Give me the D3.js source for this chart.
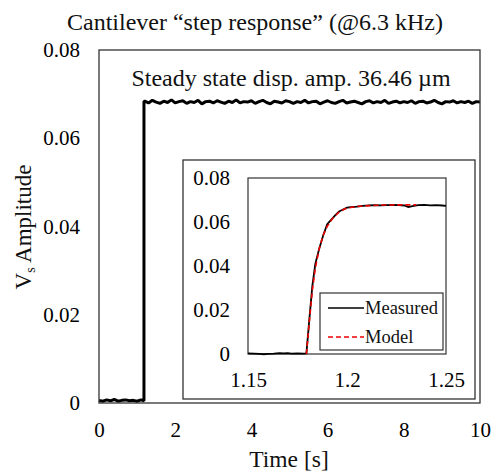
<!DOCTYPE html>
<html>
<head>
<meta charset="utf-8">
<script src="https://cdn.jsdelivr.net/npm/d3@7"></script>
<style>
body { margin: 0; background: #fff; }
.axis path { display: none; }
.axis line { display: none; }
</style>
</head>
<body>
<script>
// main trace: before the step, sampled every 0.1 s from 0
var preValues = [0.0006, 0.0004, 0.0007, 0.0005, 0.0008, 0.0004, 0.0006, 0.0007, 0.0005, 0.0006, 0.0004, 0.0007]
var stepTime = 1.18
// main trace: after the step, sampled every 0.1 s from 1.2 to 10
var postValues = [
    0.0684, 0.0680, 0.0686, 0.0682, 0.0679, 0.0684, 0.0681, 0.0687, 0.0680, 0.0683,
    0.0685, 0.0679, 0.0683, 0.0681, 0.0686, 0.0678, 0.0683, 0.0684, 0.0680, 0.0685,
    0.0682, 0.0679, 0.0684, 0.0681, 0.0687, 0.0680, 0.0683, 0.0682, 0.0685, 0.0679,
    0.0683, 0.0686, 0.0681, 0.0678, 0.0684, 0.0682, 0.0680, 0.0685, 0.0683, 0.0679,
    0.0683, 0.0681, 0.0686, 0.0680, 0.0683, 0.0684, 0.0678, 0.0682, 0.0685, 0.0681,
    0.0679, 0.0683, 0.0686, 0.0680, 0.0682, 0.0684, 0.0681, 0.0678, 0.0683, 0.0685,
    0.0680, 0.0683, 0.0681, 0.0686, 0.0679, 0.0682, 0.0684, 0.0680, 0.0683, 0.0681,
    0.0685, 0.0679, 0.0683, 0.0684, 0.0680, 0.0682, 0.0686, 0.0681, 0.0678, 0.0683,
    0.0682, 0.0685, 0.0680, 0.0683, 0.0681, 0.0684, 0.0679, 0.0683, 0.0682
]

// inset (zoom on the step)
var insetTime = [1.150, 1.153, 1.156, 1.158, 1.160, 1.163, 1.166, 1.168, 1.170, 1.172, 1.175, 1.178,
    1.1795, 1.181, 1.1825, 1.184, 1.186, 1.188, 1.190, 1.192, 1.194, 1.196, 1.198, 1.200,
    1.202, 1.205, 1.208, 1.211, 1.214, 1.217, 1.220, 1.223, 1.226, 1.229, 1.231, 1.233,
    1.236, 1.239, 1.242, 1.245, 1.248, 1.250]
var insetMeasured = [0.0003, 0.0002, 0.0001, -0.0001, 0.0001, 0.0002, 0.0004, 0.0003, 0.0004, 0.0002, 0.0003, 0.0002,
    0.0003, 0.0160, 0.0310, 0.0410, 0.0480, 0.0540, 0.0590, 0.0610, 0.0630, 0.0648, 0.0657, 0.0665,
    0.0668, 0.0670, 0.0673, 0.0676, 0.0677, 0.0676, 0.0677, 0.0678, 0.0677, 0.0675, 0.0668, 0.0672,
    0.0677, 0.0678, 0.0676, 0.0677, 0.0675, 0.0673]
var modelTime = [1.1795, 1.181, 1.1825, 1.184, 1.186, 1.188, 1.190, 1.193, 1.196, 1.199, 1.203, 1.208, 1.213, 1.218, 1.224, 1.230, 1.235]
var modelValues = [0, 0.015, 0.029, 0.039, 0.048, 0.054, 0.058, 0.062, 0.0645, 0.066, 0.0668, 0.0673, 0.0675, 0.0677, 0.0678, 0.0678, 0.0678]

var mainXTicks = [0, 2, 4, 6, 8, 10]
var mainYTicks = [0, 0.02, 0.04, 0.06, 0.08]
var insetXTicks = [1.15, 1.2, 1.25]
var insetYTicks = [0, 0.02, 0.04, 0.06, 0.08]
var legendLabels = ['Measured', 'Model']

var width = 491
var height = 474
var serif = 'Liberation Serif'

var svg = d3.select('body').append('svg')
    .attr('width', width)
    .attr('height', height)
    .attr('font-family', serif)

var yFormat = function (d) { return d === 0 ? '0' : d3.format('.2f')(d) }

// main series as one point list
var mainData = preValues.map(function (v, i) { return [i * 0.1, v] })
mainData.push([stepTime, 0.0005])
mainData.push([stepTime, postValues[0]])
postValues.forEach(function (v, i) { mainData.push([1.2 + i * 0.1, v]) })

var x = d3.scaleLinear().domain([0, 10]).range([99, 480])
var y = d3.scaleLinear().domain([0, 0.08]).range([403, 50])

function label(sel, size) {
    return sel.attr('font-family', serif).attr('font-size', size).attr('fill', '#111')
}

label(svg.append('text'), 24)
    .attr('x', 255).attr('y', 30)
    .attr('text-anchor', 'middle')
    .text('Cantilever \u201cstep response\u201d (@6.3 kHz)')

svg.append('g')
    .attr('class', 'axis')
    .attr('transform', 'translate(0,' + y(0) + ')')
    .call(d3.axisBottom(x).tickValues(mainXTicks).tickSize(0).tickPadding(19).tickFormat(d3.format('d')))
    .call(label, 21)

svg.append('g')
    .attr('class', 'axis')
    .attr('transform', 'translate(' + x(0) + ',0)')
    .call(d3.axisLeft(y).tickValues(mainYTicks).tickSize(0).tickPadding(19).tickFormat(yFormat))
    .call(label, 21)

label(svg.append('text'), 23.5)
    .attr('x', 289).attr('y', 467)
    .attr('text-anchor', 'middle')
    .text('Time [s]')

var ylab = label(svg.append('text'), 23)
    .attr('transform', 'translate(31,227) rotate(-90)')
    .attr('text-anchor', 'middle')
ylab.append('tspan').text('V')
ylab.append('tspan').attr('dy', 4).attr('font-size', 14).text('s')
ylab.append('tspan').attr('dy', -4).text(' Amplitude')

svg.append('path')
    .datum(mainData)
    .attr('fill', 'none')
    .attr('stroke', '#000')
    .attr('stroke-width', 3)
    .attr('stroke-linejoin', 'bevel')
    .attr('d', d3.line().x(function (d) { return x(d[0]) }).y(function (d) { return y(d[1]) }))

svg.append('rect')
    .attr('x', x(0)).attr('y', y(0.08))
    .attr('width', x(10) - x(0)).attr('height', y(0) - y(0.08))
    .attr('fill', 'none').attr('stroke', '#333').attr('stroke-width', 1.3)

label(svg.append('text'), 24)
    .attr('x', 291).attr('y', 86)
    .attr('text-anchor', 'middle')
    .text('Steady state disp. amp. 36.46 \u00b5m')

// inset
svg.append('rect')
    .attr('x', 183).attr('y', 160)
    .attr('width', 292).attr('height', 239)
    .attr('fill', '#fff').attr('stroke', '#333').attr('stroke-width', 1.3)

var ix = d3.scaleLinear().domain([1.15, 1.25]).range([248, 446])
var iy = d3.scaleLinear().domain([0, 0.08]).range([354, 178])

svg.append('rect')
    .attr('x', ix(1.15)).attr('y', iy(0.08))
    .attr('width', ix(1.25) - ix(1.15)).attr('height', iy(0) - iy(0.08))
    .attr('fill', 'none').attr('stroke', '#333').attr('stroke-width', 1.2)

svg.append('g')
    .attr('class', 'axis')
    .attr('transform', 'translate(0,' + iy(0) + ')')
    .call(d3.axisBottom(ix).tickValues(insetXTicks).tickSize(0).tickPadding(18)
        .tickFormat(function (d) { return String(+d.toFixed(2)) }))
    .call(label, 21)

svg.append('g')
    .attr('class', 'axis')
    .attr('transform', 'translate(' + ix(1.15) + ',0)')
    .call(d3.axisLeft(iy).tickValues(insetYTicks).tickSize(0).tickPadding(18).tickFormat(yFormat))
    .call(label, 21)

var iline = d3.line().x(function (d) { return ix(d[0]) }).y(function (d) { return iy(d[1]) })

svg.append('path')
    .datum(insetTime.map(function (t, i) { return [t, insetMeasured[i]] }))
    .attr('fill', 'none').attr('stroke', '#000').attr('stroke-width', 1.8)
    .attr('d', iline)

svg.append('path')
    .datum(modelTime.map(function (t, i) { return [t, modelValues[i]] }))
    .attr('fill', 'none').attr('stroke', '#e00').attr('stroke-width', 1.6)
    .attr('stroke-dasharray', '5,3')
    .attr('d', iline)

// legend
var legend = svg.append('g').attr('transform', 'translate(320,293)')
legend.append('rect')
    .attr('width', 123).attr('height', 57)
    .attr('fill', '#fff').attr('stroke', '#333').attr('stroke-width', 1.2)

var entries = legend.selectAll('.entry')
    .data(legendLabels)
    .enter().append('g')
    .attr('class', 'entry')
    .attr('transform', function (d, i) { return 'translate(0,' + (15 + i * 29) + ')' })

entries.append('line')
    .attr('x1', 8).attr('x2', 44)
    .attr('stroke', function (d, i) { return i === 0 ? '#000' : '#e00' })
    .attr('stroke-width', 1.6)
    .attr('stroke-dasharray', function (d, i) { return i === 0 ? null : '5,3' })

label(entries.append('text'), 18.5)
    .attr('x', 45).attr('y', 6)
    .text(function (d) { return d })
</script>
</body>
</html>
